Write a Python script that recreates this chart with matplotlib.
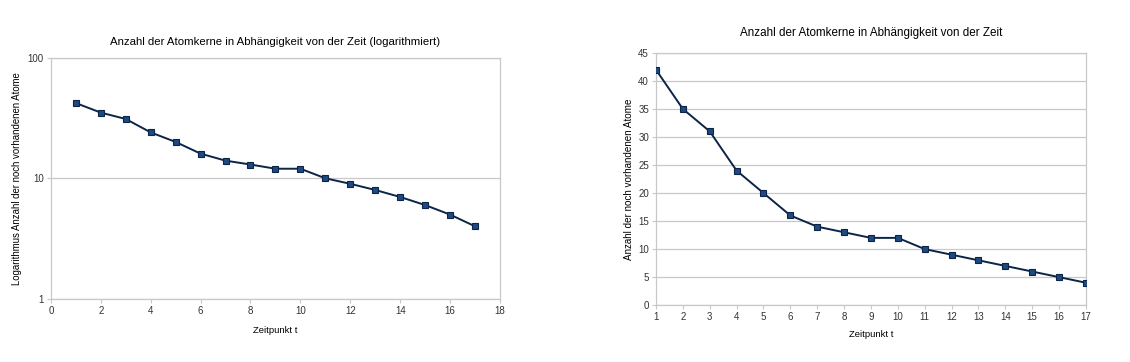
import matplotlib
matplotlib.use("Agg")
import matplotlib.pyplot as plt
from matplotlib.ticker import FixedLocator, NullLocator, FixedFormatter

plt.rcParams['font.family'] = ['Liberation Sans', 'DejaVu Sans']

# Zeitpunkte und Anzahl der Atome
zeitpunkt = [1, 2, 3, 4, 5, 6, 7, 8, 9, 10, 11, 12, 13, 14, 15, 16, 17]
anzahl = [42, 35, 31, 24, 20, 16, 14, 13, 12, 12, 10, 9, 8, 7, 6, 5, 4]

log_xticks = [0, 2, 4, 6, 8, 10, 12, 14, 16, 18]
log_yticks = [1, 10, 100]
lin_yticks = [0, 5, 10, 15, 20, 25, 30, 35, 40, 45]

title_log = "Anzahl der Atomkerne in Abhängigkeit von der Zeit (logarithmiert)"
title_lin = "Anzahl der Atomkerne in Abhängigkeit von der Zeit"
ylabel_log = "Logarithmus Anzahl der noch vorhandenen Atome"
ylabel_lin = "Anzahl der noch vorhandenen Atome"
xlabel = "Zeitpunkt t"

line_col = "#0b2447"
marker_col = "#1f4a7f"
grid_col = "#c8c8c8"

fig = plt.figure(figsize=(11.3, 3.62), dpi=100)
ax1 = fig.add_axes([0.045, 0.174, 0.3975, 0.667])
ax2 = fig.add_axes([0.5805, 0.157, 0.3805, 0.697])


def style(ax):
    for s in ax.spines.values():
        s.set_color(grid_col)
        s.set_linewidth(0.9)
    ax.tick_params(axis='both', labelsize=7, colors='#333333', length=3, width=0.8,
                   color=grid_col, pad=2)
    ax.yaxis.grid(True, color=grid_col, linewidth=0.9)
    ax.set_axisbelow(True)


def plot_data(ax):
    ax.plot(zeitpunkt, anzahl, color=line_col, linewidth=1.4, marker='s',
            markersize=5, markerfacecolor=marker_col, markeredgecolor=line_col,
            markeredgewidth=0.8, zorder=3)


# logarithmisches Diagramm
plot_data(ax1)
ax1.set_yscale('log')
ax1.set_xlim(0, 18)
ax1.set_ylim(1, 100)
ax1.xaxis.set_major_locator(FixedLocator(log_xticks))
ax1.yaxis.set_major_locator(FixedLocator(log_yticks))
ax1.yaxis.set_major_formatter(FixedFormatter([str(v) for v in log_yticks]))
ax1.yaxis.set_minor_locator(NullLocator())
style(ax1)
ax1.set_title(title_log, fontsize=8.2, pad=9)
ax1.set_xlabel(xlabel, fontsize=6.8, labelpad=7)
ax1.set_ylabel(ylabel_log, fontsize=6.9, labelpad=4)

# lineares Diagramm
plot_data(ax2)
ax2.set_xlim(1, 17)
ax2.set_ylim(0, 45)
ax2.set_xticks(zeitpunkt)
ax2.set_yticks(lin_yticks)
style(ax2)
ax2.set_title(title_lin, fontsize=8.4, pad=12)
ax2.set_xlabel(xlabel, fontsize=6.8, labelpad=6)
ax2.set_ylabel(ylabel_lin, fontsize=7.1, labelpad=3)

fig.savefig("out.png", dpi=100, facecolor='white')
